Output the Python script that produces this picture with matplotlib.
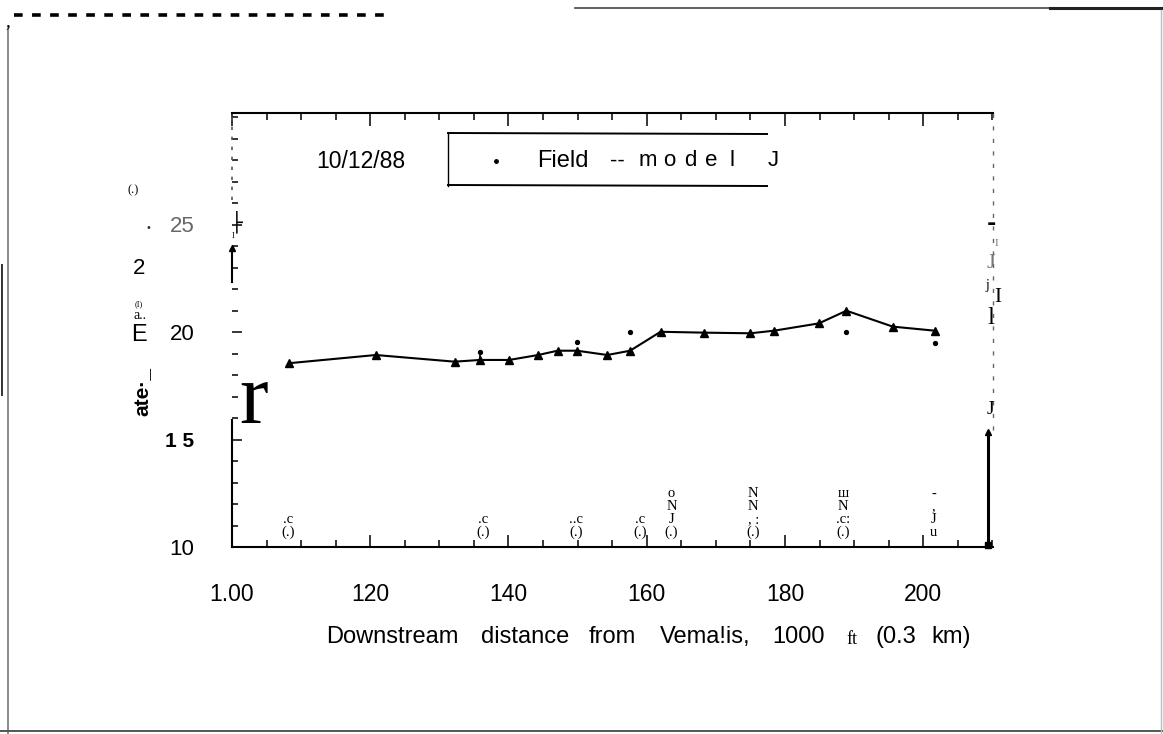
import matplotlib
matplotlib.use("Agg")
import matplotlib.pyplot as plt
from matplotlib.lines import Line2D
from matplotlib.ticker import MultipleLocator

W, H = 1163, 734

# model run (triangles joined by a line) and field readings (dots), 10/12/88
model_x = [108.3, 120.8, 132.2, 135.9, 140.1, 144.3, 147.1, 149.9, 154.3, 157.6,
           162.0, 168.3, 175.0, 178.4, 184.9, 188.9, 195.6, 201.7]
model_y = [18.55, 18.93, 18.62, 18.70, 18.70, 18.93, 19.13, 19.13, 18.93, 19.13,
           20.01, 19.97, 19.94, 20.06, 20.40, 20.99, 20.25, 20.06]
field_x = [135.9, 149.9, 157.6, 188.9, 201.7]
field_y = [19.07, 19.53, 20.00, 20.00, 19.47]

x_ticks = [100, 120, 140, 160, 180, 200]
x_labels = ["1.00", "120", "140", "160", "180", "200"]
y_ticks = [10, 15, 20, 25]
y_labels = ["10", "1 5", "20", "25"]

# scanned station labels under the curve (as printed)
station_x = [108.1, 136.3, 149.8, 159.0, 163.6, 175.4, 188.4, 201.5]
station_lbl = [".c\n(.)", ".c\n(.)", "..c\n(.)", ".c\n(.)", "o\nN\nJ\n(.)",
               "N\nN\n, :\n(.)", "ш\nN\n.c:\n(.)", "-\n,\nJ\nu"]

# x-axis title, word by word as spaced on the scan
xlabel_words = ["Downstream", "distance", "from", "Vema!is,", "1000", "ft", "(0.3", "km)"]


def fx(px):
    return px / W


def fy(py):
    return 1 - py / H


SANS = "Liberation Sans"
SERIF = "Liberation Serif"

fig = plt.figure(figsize=(W / 100, H / 100), dpi=100)
ax = fig.add_axes([fx(232), fy(547), (993 - 232) / W, (547 - 113) / H])
ax.set_xlim(100, 210.1)
ax.set_ylim(10, 10 + (547 - 113) / 21.5)

ax.plot(model_x, model_y, color="black", lw=1.5, marker="^", ms=6, zorder=3)
ax.plot(field_x, field_y, ls="none", marker="o", ms=2.8, color="black", zorder=3)
ax.vlines(field_x[0], model_y[3], field_y[0], color="black", lw=1.2)

ax.set_xticks(x_ticks)
ax.set_xticklabels(x_labels, fontsize=16.5, family=SANS)
ax.xaxis.set_minor_locator(MultipleLocator(5))
ax.set_yticks(y_ticks)
ax.set_yticklabels(y_labels, fontsize=16, family=SANS)
ax.yaxis.set_minor_locator(MultipleLocator(1))
ax.tick_params(axis="x", which="both", direction="in", top=True, pad=26, width=1.1)
ax.tick_params(axis="x", which="major", length=9)
ax.tick_params(axis="x", which="minor", length=5)
ax.tick_params(axis="y", which="both", direction="in", right=False, pad=27, width=1.1)
ax.tick_params(axis="y", which="major", length=7)
ax.tick_params(axis="y", which="minor", length=4)
lbls = ax.get_yticklabels()
lbls[3].set_color("#666666")
lbls[3].set_fontweight("light")
lbls[1].set_fontweight("bold")
lbls[1].set_fontsize(15)

for s in ("left", "right"):
    ax.spines[s].set_visible(False)
ax.spines["bottom"].set_linewidth(1.5)
ax.spines["top"].set_linewidth(1.5)


def ay(py):
    return (547 - py) / (547 - 113)


T = ax.transAxes
# broken left axis as scanned
ax.plot([0, 0], [ay(547), ay(420)], color="black", lw=1.5, transform=T, clip_on=False)
ax.plot([0, 0], [ay(282), ay(248)], color="black", lw=1.5, transform=T, clip_on=False)
ax.plot([0], [ay(248)], marker="^", ms=4, color="black", transform=T, clip_on=False)
ax.plot([0, 0], [ay(200), ay(113)], color="#555555", lw=1.2, ls=(0, (2, 4)),
        transform=T, clip_on=False)
# right axis: faint dashed above, heavy stroke below
ax.plot([1, 1], [ay(430), ay(113)], color="#666666", lw=1.0, ls=(0, (3, 6)),
        transform=T, clip_on=False)
xr = (988 - 232) / (993 - 232)
ax.plot([xr, xr], [ay(547), ay(432)], color="black", lw=2.2, transform=T, clip_on=False)
ax.plot([xr], [ay(545)], marker="s", ms=5, color="black", transform=T, clip_on=False)
ax.plot([xr], [ay(432)], marker="^", ms=5, color="black", transform=T, clip_on=False)

for sx, lbl in zip(station_x, station_lbl):
    ax.text(sx, 10.35, lbl, ha="center", va="bottom", fontsize=10.5, family=SERIF,
            linespacing=1.0)

# legend block
fig.add_artist(Line2D([fx(448), fx(448)], [fy(133), fy(186)], color="black", lw=1.0))
fig.add_artist(Line2D([fx(448), fx(767)], [fy(133), fy(134)], color="black", lw=1.4))
fig.add_artist(Line2D([fx(448), fx(767)], [fy(185), fy(186)], color="black", lw=1.4))
fig.text(fx(361), fy(161), "10/12/88", ha="center", va="center", fontsize=16.5,
         family=SANS)
fig.add_artist(Line2D([fx(496)], [fy(161)], marker="o", ms=2.5, color="black"))
fig.text(fx(537), fy(161), "Field", ha="left", va="center", fontsize=17, family=SANS)
fig.text(fx(610), fy(161), "--", ha="left", va="center", fontsize=16, family=SANS)
for i, ch in enumerate("model"):
    fig.text(fx(648 + i * 21), fy(161), ch, ha="center", va="center", fontsize=16,
             family=SANS)
fig.text(fx(773), fy(161), "J", ha="center", va="center", fontsize=16, family=SANS)

# x label ("ft" is set in a smaller serif on the scan)
word_cx = [392, 525, 612, 705, 799, 852, 896, 951]
for wd, cx in zip(xlabel_words, word_cx):
    if wd == "ft":
        fig.text(fx(cx), fy(639), wd, ha="center", va="center", fontsize=13,
                 family=SERIF)
    else:
        fig.text(fx(cx), fy(637), wd, ha="center", va="center", fontsize=17,
                 family=SANS)

# scan debris on the left of the axis
fig.text(fx(133), fy(190), "(.)", ha="center", va="center", fontsize=9, family=SERIF)
fig.text(fx(148), fy(228), "\u2022", ha="center", va="center", fontsize=7, color="#333333")
fig.text(fx(139), fy(268), "2", ha="center", va="center", fontsize=16, family=SANS)
fig.text(fx(139), fy(304), "(I)", ha="center", va="center", fontsize=6, family=SERIF)
fig.text(fx(140), fy(316), "a..", ha="center", va="center", fontsize=10, family=SERIF)
fig.text(fx(139), fy(335), "E", ha="center", va="center", fontsize=17, family=SANS)
fig.text(fx(143), fy(392), "ate\u00b7_", ha="center", va="center", fontsize=15,
         family=SANS, fontweight="bold", rotation=90)
fig.text(fx(254), fy(402), "r", ha="center", va="center", fontsize=62, family=SERIF)
fig.text(fx(237), fy(222), "\u251c", ha="center", va="center", fontsize=14,
         fontweight="bold", family="DejaVu Sans Mono")
fig.text(fx(233), fy(236), "I", ha="center", va="center", fontsize=6, family=SERIF)

# scan debris on the right of the axis
fig.text(fx(991), fy(224), "-", ha="center", va="center", fontsize=16, fontweight="bold")
fig.text(fx(996), fy(244), "I", ha="center", va="center", fontsize=8, family=SERIF,
         color="#777777")
fig.text(fx(991), fy(264), "J", ha="center", va="center", fontsize=16, family=SERIF,
         color="#777777")
fig.text(fx(987), fy(286), "j", ha="center", va="center", fontsize=10, family=SERIF)
fig.text(fx(998), fy(297), "I", ha="center", va="center", fontsize=15, family=SERIF)
fig.text(fx(991), fy(318), "l", ha="center", va="center", fontsize=18, family=SERIF)
fig.text(fx(990), fy(410), "J", ha="center", va="center", fontsize=14, family=SERIF)

# page frame and top rules of the scan
fig.add_artist(Line2D([fx(14), fx(385)], [fy(15), fy(15)], color="black", lw=2.6,
                      ls=(0, (2.4, 2.6))))
fig.text(fx(8), fy(22), ",", ha="center", va="center", fontsize=14, family=SERIF)
fig.add_artist(Line2D([fx(575), fx(1050)], [fy(8), fy(8)], color="#444444", lw=1.2))
fig.add_artist(Line2D([fx(1050), fx(1163)], [fy(8), fy(8)], color="#222222", lw=2.2))
fig.add_artist(Line2D([fx(8), fx(8)], [fy(28), fy(734)], color="#777777", lw=1.2))
fig.add_artist(Line2D([fx(2), fx(2)], [fy(265), fy(395)], color="#333333", lw=1.4))
fig.add_artist(Line2D([fx(0), fx(1163)], [fy(731), fy(731)], color="#555555", lw=1.4))
fig.add_artist(Line2D([fx(1161), fx(1161)], [fy(10), fy(734)], color="#bbbbbb", lw=1.0))

fig.savefig("out.png", dpi=100)
